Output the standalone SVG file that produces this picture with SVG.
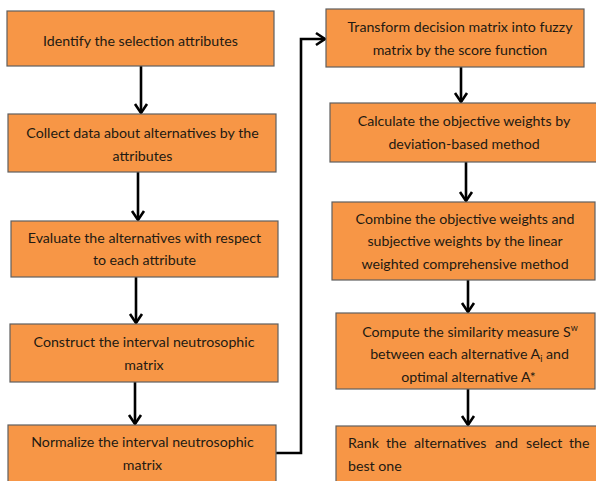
<svg xmlns="http://www.w3.org/2000/svg" width="596" height="481" viewBox="0 0 596 481">
<style>
.box{fill:#F79646;stroke:#5f5f5f;stroke-width:1.2}
.t{font-family:Lato,"Liberation Sans",sans-serif;font-size:14.2px;fill:#231a12;text-anchor:middle}
.l{text-anchor:start}
.c{fill:none;stroke:#000;stroke-width:2.6}
</style>
<defs>
<marker id="ah" markerUnits="userSpaceOnUse" markerWidth="16" markerHeight="16" refX="10" refY="8" orient="auto" viewBox="0 0 16 16">
<path d="M1,2 L10,8 L1,14" fill="none" stroke="#000" stroke-width="2.6"/>
</marker>
</defs>
<rect width="596" height="481" fill="#fff"/>
<g id="connectors">
<path class="c" d="M141,66 V113" marker-end="url(#ah)"/>
<path class="c" d="M138,172 V220" marker-end="url(#ah)"/>
<path class="c" d="M136,277 V323" marker-end="url(#ah)"/>
<path class="c" d="M135,382 V424" marker-end="url(#ah)"/>
<path class="c" d="M276,453 H301 V39 H325" marker-end="url(#ah)"/>
<path class="c" d="M461,67 V102" marker-end="url(#ah)"/>
<path class="c" d="M466,162 V201" marker-end="url(#ah)"/>
<path class="c" d="M468,280 V312" marker-end="url(#ah)"/>
<path class="c" d="M468,389 V425" marker-end="url(#ah)"/>
</g>
<g id="n1"><rect class="box" x="7" y="11" width="267" height="55"/><text class="t" x="140.5" y="46">Identify the selection attributes</text></g>
<g id="n2"><rect class="box" x="8" y="114" width="268" height="58"/><text class="t" x="142.5" y="138">Collect data about alternatives by the</text><text class="t" x="142.5" y="160.5">attributes</text></g>
<g id="n3"><rect class="box" x="11" y="221" width="267" height="56"/><text class="t" x="144.5" y="242.5">Evaluate the alternatives with respect</text><text class="t" x="144.5" y="265">to each attribute</text></g>
<g id="n4"><rect class="box" x="10" y="324" width="268" height="58"/><text class="t" x="144" y="347">Construct the interval neutrosophic</text><text class="t" x="144" y="370">matrix</text></g>
<g id="n5"><rect class="box" x="8" y="425" width="268" height="60"/><text class="t" x="142.5" y="447">Normalize the interval neutrosophic</text><text class="t" x="142.5" y="470">matrix</text></g>
<g id="n6"><rect class="box" x="326" y="9" width="258" height="58"/><text class="t" x="460" y="32">Transform decision matrix into fuzzy</text><text class="t" x="460" y="54.5">matrix by the score function</text></g>
<g id="n7"><rect class="box" x="330" y="103" width="270" height="59"/><text class="t" x="464" y="126">Calculate the objective weights by</text><text class="t" x="464" y="148.5">deviation-based method</text></g>
<g id="n8"><rect class="box" x="332" y="202" width="263" height="78"/><text class="t" x="465" y="224">Combine the objective weights and</text><text class="t" x="465" y="246">subjective weights by the linear</text><text class="t" x="465" y="268.5">weighted comprehensive method</text></g>
<g id="n9"><rect class="box" x="336" y="313" width="259" height="76"/><text class="t" x="470" y="336.5">Compute the similarity measure S<tspan font-size="9" dy="-6">w</tspan></text><text class="t" x="469.5" y="359">between each alternative A<tspan font-size="9" dy="3">i</tspan><tspan dy="-3"> and</tspan></text><text class="t" x="468.5" y="381.5">optimal alternative A*</text></g>
<g id="n10"><rect class="box" x="336" y="426" width="264" height="60"/><text class="t l" y="448"><tspan x="348">Rank</tspan><tspan x="386">the</tspan><tspan x="414">alternatives</tspan><tspan x="495">and</tspan><tspan x="526">select</tspan><tspan x="569">the</tspan></text><text class="t l" x="348" y="471">best one</text></g>
</svg>
